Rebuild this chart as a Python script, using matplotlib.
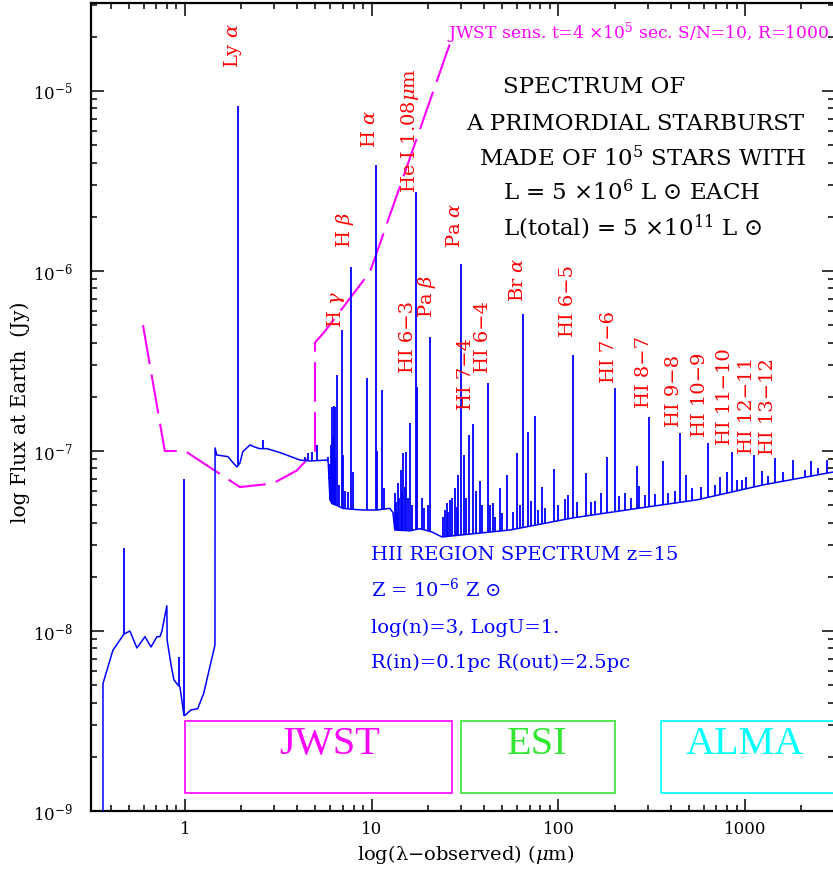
import numpy as np
import matplotlib
matplotlib.use('Agg')
import matplotlib.pyplot as plt
from matplotlib.patches import Rectangle
from matplotlib.ticker import LogLocator, NullFormatter

# continuum of the HII region spectrum (observed micron, Jy)
cont_wl = [0.364, 0.364, 0.411, 0.471, 0.507, 0.553, 0.611, 0.658, 0.708, 0.735,
           0.753, 0.800, 0.803, 0.84, 0.873, 0.918, 0.94, 0.988, 1.0, 1.077,
           1.17, 1.26, 1.448, 1.45, 1.48, 1.70, 1.76, 1.81, 1.90, 1.97,
           2.04, 2.23, 2.37, 2.52, 2.75, 3.23, 4.13, 4.67, 5.76, 5.85,
           5.98, 6.13, 6.52, 7.0, 7.93, 8.98, 10.66, 12.5, 13.0, 13.3,
           16.0, 18.1, 21.0, 23.8, 55.1, 119.7, 273, 552, 1248, 2959]
cont_flux = [8e-10, 5.1e-9, 7.8e-9, 9.6e-9, 1.0e-8, 8.05e-9, 9.3e-9, 8.15e-9, 9.3e-9, 9.3e-9,
             1.0e-8, 1.38e-8, 8.9e-9, 6.6e-9, 5.35e-9, 5.0e-9, 4.9e-9, 3.4e-9, 3.4e-9, 3.64e-9,
             3.7e-9, 4.5e-9, 8.36e-9, 1.04e-7, 9.5e-8, 9.3e-8, 8.9e-8, 8.6e-8, 8.15e-8, 8.57e-8,
             9.9e-8, 1.08e-7, 1.05e-7, 1.03e-7, 1.03e-7, 9.8e-8, 8.9e-8, 8.8e-8, 8.9e-8, 8.7e-8,
             5.35e-8, 5.1e-8, 4.98e-8, 4.8e-8, 4.74e-8, 4.7e-8, 4.7e-8, 4.8e-8, 4.55e-8, 3.64e-8,
             3.6e-8, 3.7e-8, 3.55e-8, 3.33e-8, 3.64e-8, 4.25e-8, 4.82e-8, 5.35e-8, 6.48e-8, 7.64e-8]

# emission lines: observed wavelength and peak flux
line_wl = [0.471, 0.925, 0.988, 1.93, 2.62, 4.39, 4.56, 4.79, 5.09,
           5.83, 5.9, 5.95, 6.0, 6.05, 6.13, 6.2, 6.28, 6.36, 6.4, 6.52,
           6.7, 6.93, 7.0, 7.2, 7.45, 7.76, 7.93, 9.44, 10.55, 10.66,
           11.36, 11.65, 13.3, 13.5, 13.6, 13.8, 14.0, 14.3, 14.5, 14.7,
           15.0, 15.3, 15.6, 16.04, 16.5, 17.3, 17.5, 18.5, 19.0, 20.0,
           20.5, 24.1, 24.6, 25.2, 25.6, 26.2, 26.9, 27.9, 28.5, 29.0,
           30.0, 31.2, 32.0, 33.2, 34.9, 36.0, 38.0, 39.0, 42.0, 43.0,
           44.6, 46.0, 48.7, 50.0, 53.0, 57.0, 60.0, 62.0, 64.6, 68.7,
           71.0, 74.9, 78.0, 81.6, 85.0, 94.7, 100, 108.5, 112, 119.5,
           126, 140.6, 150, 157, 169, 182, 201, 212, 227, 245,
           264, 270, 290, 305, 330, 363, 386, 420, 448, 483,
           520, 580, 633, 690, 734, 800, 851, 905, 960, 1012,
           1116, 1233, 1330, 1445, 1600, 1805, 2094, 2255, 2457, 2747]
line_peak = [2.89e-8, 7.2e-9, 7.0e-8, 8.2e-6, 1.15e-7, 9.27e-8, 9.75e-8, 9.9e-8, 1.08e-7,
             9.27e-8, 7.0e-8, 6.0e-8, 8.5e-8, 1.08e-7, 1.75e-7, 1.2e-7, 1.77e-7, 1.75e-7, 9.0e-8, 2.64e-7,
             6.5e-8, 4.7e-7, 9.5e-8, 6.0e-8, 5.9e-8, 1.05e-6, 7.64e-8, 2.55e-7, 3.88e-6, 1.0e-7,
             2.18e-7, 6.2e-8, 5.85e-8, 5.2e-8, 4.6e-8, 6.64e-8, 5.5e-8, 7.84e-8, 6.0e-8, 9.8e-8,
             6.3e-8, 9.9e-8, 5.5e-8, 1.43e-7, 5.0e-8, 2.75e-6, 2.27e-7, 5.5e-8, 4.8e-8, 5.0e-8,
             4.3e-7, 4.3e-8, 4.7e-8, 5.14e-8, 4.6e-8, 5.35e-8, 5.5e-8, 6.2e-8, 4.9e-8, 7.36e-8,
             1.1e-6, 9.5e-8, 5.5e-8, 1.23e-7, 1.41e-7, 6.0e-8, 6.8e-8, 5.0e-8, 2.39e-7, 5.0e-8,
             5.14e-8, 4.3e-8, 6.2e-8, 4.5e-8, 7.36e-8, 4.6e-8, 9.8e-8, 5.0e-8, 5.77e-7, 1.28e-7,
             5.3e-8, 1.56e-7, 4.7e-8, 6.3e-8, 4.8e-8, 7.94e-8, 5.0e-8, 5.4e-8, 5.7e-8, 3.4e-7,
             5.2e-8, 7.5e-8, 5.2e-8, 5.3e-8, 5.85e-8, 9.27e-8, 2.24e-7, 5.6e-8, 5.85e-8, 5.5e-8,
             8.25e-8, 6.4e-8, 5.7e-8, 1.55e-7, 5.8e-8, 8.8e-8, 5.85e-8, 6.0e-8, 1.26e-7, 7.36e-8,
             6.2e-8, 6.3e-8, 1.11e-7, 6.5e-8, 7.17e-8, 7.64e-8, 9.9e-8, 6.9e-8, 6.9e-8, 7.2e-8,
             9.5e-8, 7.7e-8, 7.3e-8, 9.1e-8, 7.6e-8, 8.9e-8, 7.8e-8, 8.8e-8, 8.0e-8, 8.9e-8]

# JWST sensitivity (t=4e5 s, S/N=10, R=1000)
sens_wl = [0.596, 0.78, 1.0, 1.97, 2.96, 3.98, 4.97, 4.97, 5.6, 9.8, 26.9]
sens_flux = [5.0e-7, 1.0e-7, 1.0e-7, 6.3e-8, 6.6e-8, 7.8e-8, 1.0e-7, 4.0e-7, 4.6e-7, 9.9e-7, 1.97e-5]

# line identifications
label_text = ['Ly $\\alpha$', 'H $\\gamma$', 'H $\\beta$', 'H $\\alpha$', 'He I 1.08$\\mu$m',
              'HI 6\u22123', 'Pa $\\beta$', 'Pa $\\alpha$', 'HI 7\u22124', 'HI 6\u22124',
              'Br $\\alpha$', 'HI 6\u22125', 'HI 7\u22126', 'HI 8\u22127', 'HI 9\u22128',
              'HI 10\u22129', 'HI 11\u221210', 'HI 12\u221211', 'HI 13\u221212']
label_wl = [1.81, 6.44, 7.19, 9.79, 16.0, 15.6, 19.8, 27.9, 32.0, 39.5,
            60.8, 112.5, 186.7, 287.5, 416, 573, 780, 1024, 1327]
label_flux = [1.34e-5, 4.8e-7, 1.34e-6, 4.82e-6, 2.71e-6, 2.71e-7, 5.48e-7, 1.34e-6, 1.69e-7, 2.71e-7,
              6.73e-7, 4.3e-7, 2.39e-7, 1.73e-7, 1.36e-7, 1.2e-7, 1.08e-7, 9.6e-8, 9.5e-8]

# instrument coverage boxes
box_names = ['JWST', 'ESI', 'ALMA']
box_lo = [1.0, 30.1, 354]
box_hi = [26.9, 201, 5000]
box_text_wl = [5.98, 76.8, 1000]
box_colors = ['#ff00ff', '#33e633', '#00ffff']

title_lines = ['SPECTRUM OF', 'A PRIMORDIAL STARBURST', 'MADE OF 10$^5$ STARS WITH',
               'L = 5 \u00d710$^6$ L $\\odot$ EACH', 'L(total) = 5 \u00d710$^{11}$ L $\\odot$']
title_wl = [50.5, 32.0, 37.6, 50.5, 50.5]
title_flux = [9.75e-6, 6.07e-6, 3.83e-6, 2.48e-6, 1.585e-6]

model_lines = ['HII REGION SPECTRUM z=15', 'Z = 10$^{-6}$ Z $\\odot$',
               'log(n)=3, LogU=1.', 'R(in)=0.1pc R(out)=2.5pc']
model_flux = [2.48e-8, 1.55e-8, 9.75e-9, 6.23e-9]


def main():
    plt.rcParams['font.family'] = ['DejaVu Serif', 'DejaVu Sans']
    plt.rcParams['mathtext.fontset'] = 'dejavuserif'

    fig = plt.figure(figsize=(8.33, 8.73), dpi=100)
    ax = fig.add_axes([91 / 833, 62 / 873, 743 / 833, 808 / 873])
    ax.set_xscale('log')
    ax.set_yscale('log')
    ax.set_xlim(0.314, 2990)
    ax.set_ylim(1e-9, 3.08e-5)

    # continuum + lines
    ax.plot(cont_wl, cont_flux, color='blue', lw=1.1, zorder=3)
    lw_log = np.log10(line_wl)
    base = 10 ** np.interp(lw_log, np.log10(cont_wl[1:]), np.log10(cont_flux[1:]))
    ax.vlines(line_wl, base, line_peak, color='blue', lw=1.3, zorder=3)

    # sensitivity curve
    ax.plot(sens_wl, sens_flux, color='#ff00ff', lw=1.5, linestyle=(0, (19, 5)), zorder=2)
    ax.text(25.3, 1.97e-5, 'JWST sens. t=4 \u00d710$^5$ sec. S/N=10, R=1000',
            color='#ff00ff', fontsize=12.3, va='baseline', ha='left')

    for txt, x, y in zip(label_text, label_wl, label_flux):
        ax.text(x, y, txt, color='red', fontsize=14, rotation=90,
                ha='center', va='bottom')

    for txt, x, y in zip(title_lines, title_wl, title_flux):
        ax.text(x, y, txt, color='black', fontsize=16.5, ha='left', va='baseline')

    for txt, y in zip(model_lines, model_flux):
        ax.text(9.92, y, txt, color='blue', fontsize=14, ha='left', va='baseline')

    for name, lo, hi, xt, c in zip(box_names, box_lo, box_hi, box_text_wl, box_colors):
        ax.add_patch(Rectangle((lo, 1.26e-9), hi - lo, 3.16e-9 - 1.26e-9,
                               fill=False, edgecolor=c, lw=1.2))
        ax.text(xt, 2.33e-9, name, color=c, fontsize=29, family='Liberation Serif',
                ha='center', va='center')

    # axes styling
    ax.set_xticks([1, 10, 100, 1000])
    ax.set_xticklabels(['1', '10', '100', '1000'])
    ax.xaxis.set_minor_locator(LogLocator(base=10, subs=np.arange(2, 10)))
    ax.xaxis.set_minor_formatter(NullFormatter())
    ax.set_yticks([1e-9, 1e-8, 1e-7, 1e-6, 1e-5])
    ax.yaxis.set_minor_locator(LogLocator(base=10, subs=np.arange(2, 10)))
    ax.yaxis.set_minor_formatter(NullFormatter())

    ax.tick_params(which='both', direction='in', top=True, right=True, width=1.1)
    ax.tick_params(which='major', length=9)
    ax.tick_params(which='minor', length=4.5)
    ax.tick_params(axis='x', which='major', labelsize=12, pad=7)
    ax.tick_params(axis='y', which='major', labelsize=12, pad=13)
    for sp in ax.spines.values():
        sp.set_linewidth(1.6)
    ax.spines['right'].set_visible(False)

    ax.set_xlabel('log(\u03bb\u2212observed) ($\\mu$m)', fontsize=14)
    ax.xaxis.set_label_coords(0.504, -0.040)
    ax.get_xaxis().label.set_va('top')
    ax.set_ylabel('log Flux at Earth  (Jy)', fontsize=14.5)
    ax.yaxis.set_label_coords(-0.082, 0.494)

    fig.savefig('out.png', dpi=100)
    plt.close(fig)


if __name__ == '__main__':
    main()
